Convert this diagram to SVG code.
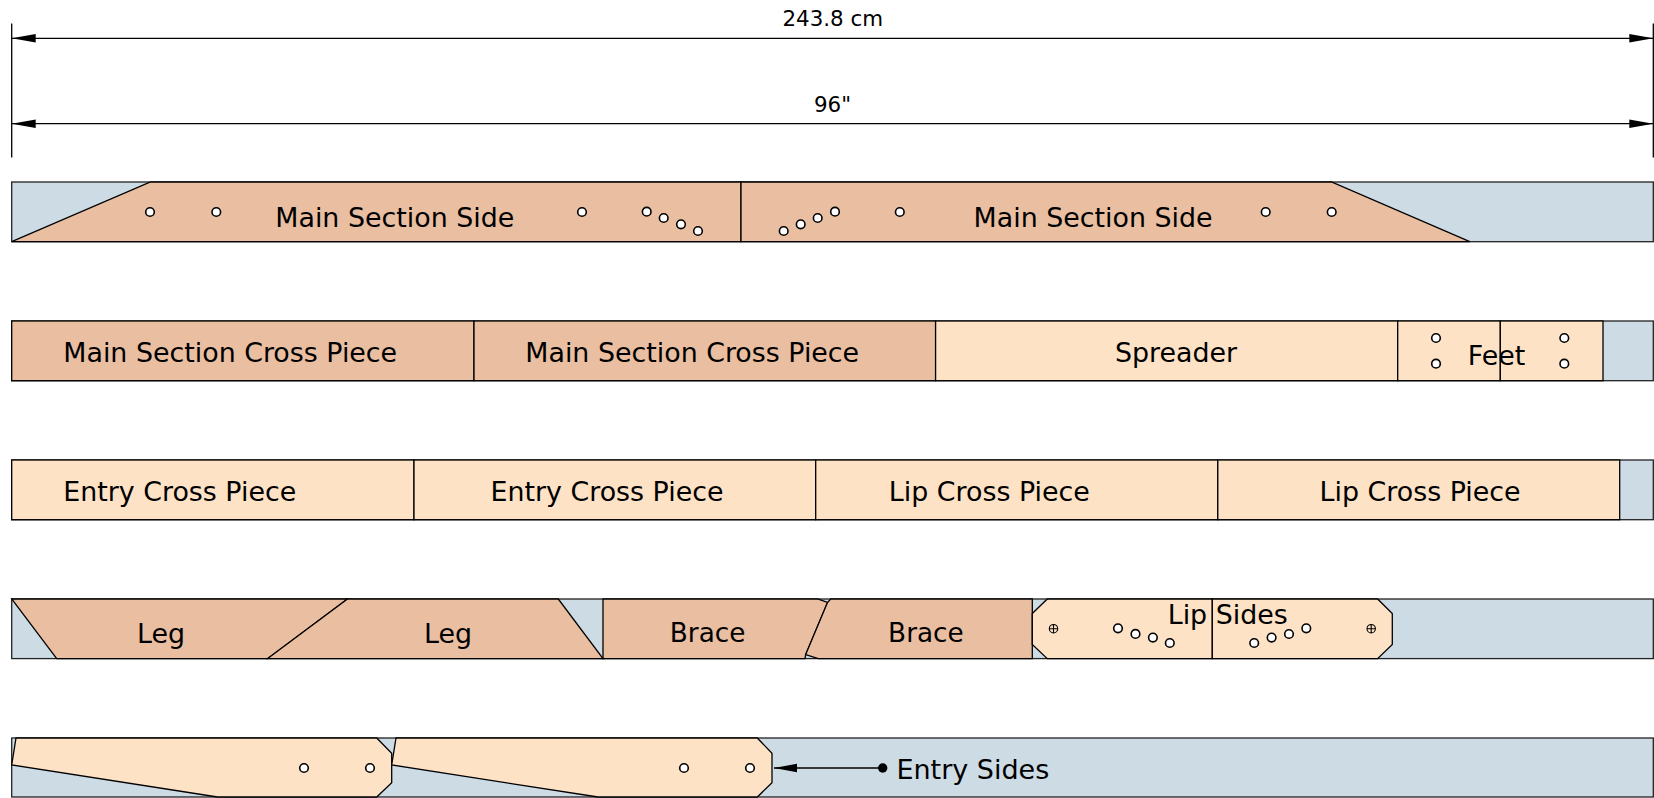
<svg xmlns="http://www.w3.org/2000/svg" width="1654" height="798" viewBox="0 0 1654 798">
<style>
text{font-family:"DejaVu Sans",Verdana,sans-serif;fill:#000;font-size:26.85px}
.dim{font-size:21.4px;text-anchor:middle}
.br{font-size:26.3px}
.board{fill:#cddbe5;stroke:#222;stroke-width:1.3}
.d{fill:#eabea0;stroke:#000;stroke-width:1.3}
.l{fill:#fde2c6;stroke:#000;stroke-width:1.3}
.h{fill:#fff;stroke:#000;stroke-width:1.6}
.x{fill:none;stroke:#000;stroke-width:1.1}
.ln{fill:none;stroke:#000;stroke-width:1.3}
</style>
<defs>
<marker id="a" markerUnits="userSpaceOnUse" markerWidth="24" markerHeight="9" refX="24" refY="4.500" orient="auto-start-reverse" overflow="visible"><path d="M24 4.500 0 0.300 0 8.700Z" fill="#000"/></marker>
<marker id="b" markerUnits="userSpaceOnUse" markerWidth="24" markerHeight="9" refX="23" refY="4.500" orient="auto" overflow="visible"><path d="M23 4.500 0 0.300 0 8.700Z" fill="#000"/></marker>
</defs>
<g id="dimensions">
<path class="ln" d="M11.700 23.500V157.500M1653.300 23.500V157.500"/>
<path class="ln" d="M11.700 38.300H1653.300" marker-start="url(#a)" marker-end="url(#a)"/>
<path class="ln" d="M11.700 123.700H1653.300" marker-start="url(#a)" marker-end="url(#a)"/>
<text class="dim" x="832.800" y="25.600">243.8 cm</text>
<text class="dim" x="832.500" y="111.800">96"</text>
</g>
<g id="boards">
<rect class="board" x="11.700" y="182" width="1641.600" height="59.700"/>
<rect class="board" x="11.700" y="321" width="1641.600" height="59.700"/>
<rect class="board" x="11.700" y="460" width="1641.600" height="59.700"/>
<rect class="board" x="11.700" y="599" width="1641.600" height="59.600"/>
<rect class="board" x="11.700" y="738" width="1641.600" height="59"/>
</g>
<g id="main-side-1"><path class="d" d="M150.500 182H741V241.700H11.700Z"/><circle class="h" cx="150" cy="212" r="4.300"/><circle class="h" cx="216.300" cy="212" r="4.300"/><circle class="h" cx="582" cy="212" r="4.300"/><circle class="h" cx="646.700" cy="211.700" r="4.300"/><circle class="h" cx="663.700" cy="218" r="4.300"/><circle class="h" cx="681" cy="224.300" r="4.300"/><circle class="h" cx="698" cy="231" r="4.300"/><text x="275.300" y="226.800">Main Section Side</text></g>
<g id="main-side-2"><path class="d" d="M741 182H1331.500L1469.800 241.700H741Z"/><circle class="h" cx="783.700" cy="231" r="4.300"/><circle class="h" cx="800.700" cy="224.300" r="4.300"/><circle class="h" cx="817.700" cy="218" r="4.300"/><circle class="h" cx="835" cy="211.700" r="4.300"/><circle class="h" cx="899.800" cy="212" r="4.300"/><circle class="h" cx="1265.700" cy="212" r="4.300"/><circle class="h" cx="1331.700" cy="212" r="4.300"/><text x="973.600" y="226.800">Main Section Side</text></g>
<g id="cross-1"><rect class="d" x="11.700" y="321" width="462.300" height="59.700"/><text x="63.300" y="361.800">Main Section Cross Piece</text></g>
<g id="cross-2"><rect class="d" x="474" y="321" width="461.600" height="59.700"/><text x="525.300" y="361.800">Main Section Cross Piece</text></g>
<g id="spreader"><rect class="l" x="935.600" y="321" width="462.100" height="59.700"/><text x="1115" y="361.800">Spreader</text></g>
<g id="feet"><rect class="l" x="1397.700" y="321" width="102.600" height="59.700"/><rect class="l" x="1500.300" y="321" width="102.700" height="59.700"/><circle class="h" cx="1436" cy="338" r="4.300"/><circle class="h" cx="1436" cy="363.700" r="4.300"/><circle class="h" cx="1564.300" cy="338" r="4.300"/><circle class="h" cx="1564.300" cy="363.700" r="4.300"/><text x="1467.800" y="365">Feet</text></g>
<g id="entry-cross-1"><rect class="l" x="11.700" y="460" width="402.300" height="59.700"/><text x="63.300" y="501">Entry Cross Piece</text></g>
<g id="entry-cross-2"><rect class="l" x="414" y="460" width="401.700" height="59.700"/><text x="490.500" y="501">Entry Cross Piece</text></g>
<g id="lip-cross-1"><rect class="l" x="815.700" y="460" width="402.100" height="59.700"/><text x="888.800" y="501">Lip Cross Piece</text></g>
<g id="lip-cross-2"><rect class="l" x="1217.800" y="460" width="401.900" height="59.700"/><text x="1319.600" y="501">Lip Cross Piece</text></g>
<g id="leg-1"><path class="d" d="M11.700 599H347.500L267.700 658.600H56.700Z"/><text x="137.100" y="643.400">Leg</text></g>
<g id="leg-2"><path class="d" d="M347.500 599H558.300L603 658.600H267.700Z"/><text x="424" y="643.400">Leg</text></g>
<g id="brace-1"><path class="d" d="M603 599H817.700L827.500 602.500L805.700 654.500L805 658.600H603Z"/><text class="br" x="669.800" y="641.700">Brace</text></g>
<g id="brace-2"><path class="d" d="M830.700 599H1032.300V658.600H818.300L805.700 654.500L827.500 602.500Z"/><text class="br" x="888.100" y="641.700">Brace</text></g>
<g id="lip-sides"><path class="l" d="M1032.300 613.500L1047.300 599H1212.300V658.600H1047.300L1032.300 644.500Z"/><path class="l" d="M1212.300 599H1377.600L1392.300 613.500V644.500L1377.600 658.600H1212.300Z"/><circle class="h" cx="1118" cy="628.300" r="4.300"/><circle class="h" cx="1135.500" cy="633.900" r="4.300"/><circle class="h" cx="1152.900" cy="637.600" r="4.300"/><circle class="h" cx="1169.800" cy="643" r="4.300"/><circle class="h" cx="1254.200" cy="643" r="4.300"/><circle class="h" cx="1271.600" cy="637.600" r="4.300"/><circle class="h" cx="1289" cy="634" r="4.300"/><circle class="h" cx="1306.300" cy="628.300" r="4.300"/><path class="x" d="M1049.300 628.700a4.200 4.200 0 1 0 8.400 0a4.200 4.200 0 1 0 -8.400 0M1053.500 624.500v8.400M1049.300 628.700h8.400M1367 628.700a4.200 4.200 0 1 0 8.400 0a4.200 4.200 0 1 0 -8.400 0M1371.200 624.500v8.400M1367 628.700h8.400"/><text x="1167.700" y="624.400">Lip Sides</text></g>
<g id="entry-side-1"><path class="l" d="M16 738H376.700L391.700 753.300V782.700L376.700 797H217.500L11.700 765Z"/><circle class="h" cx="304" cy="768" r="4.300"/><circle class="h" cx="370" cy="768" r="4.300"/></g>
<g id="entry-side-2"><path class="l" d="M396 738H757.300L772 753.300V782.700L757.300 797H598L391.700 765Z"/><circle class="h" cx="684" cy="768" r="4.300"/><circle class="h" cx="750" cy="768" r="4.300"/></g>
<g id="connectors"><path class="ln" d="M882.700 768H774" marker-end="url(#b)"/><circle cx="882.700" cy="768" r="4.700" fill="#000"/></g>
<text id="entry-label" x="896.400" y="779.300" style="font-size:27px">Entry Sides</text>
</svg>
